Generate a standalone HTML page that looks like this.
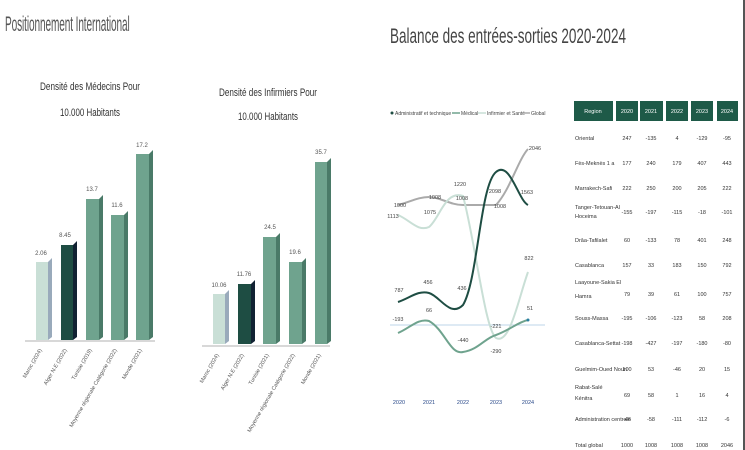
<!DOCTYPE html>
<html><head><meta charset="utf-8"><style>
html,body{margin:0;padding:0;background:#fff;width:745px;height:450px;overflow:hidden}
svg{display:block;font-family:"Liberation Sans",sans-serif}
</style></head><body>
<svg width="745" height="450" viewBox="0 0 745 450">
<rect x="743" y="0" width="2" height="450" fill="#555"/>
<text x="5" y="31" font-size="21" fill="#555" transform="translate(5 0) scale(0.48 1) translate(-5 0)" textLength="260">Positionnement International</text>
<text x="390" y="43" font-size="21" fill="#444" textLength="236" lengthAdjust="spacingAndGlyphs">Balance des entrées-sorties 2020-2024</text>

<!-- chart 1 -->
<text x="90" y="90" font-size="11" fill="#333" text-anchor="middle" textLength="100" lengthAdjust="spacingAndGlyphs">Densité des Médecins Pour</text>
<text x="90" y="116" font-size="11" fill="#333" text-anchor="middle" textLength="60" lengthAdjust="spacingAndGlyphs">10.000 Habitants</text>
<line x1="25" y1="341" x2="155" y2="341" stroke="#ccc" stroke-width="1.5"/>
<g>
<rect x="36" y="262" width="12" height="78" fill="#c9dfd6"/><polygon points="48,262 52,258 52,337 48,340" fill="#9ab"/>
<rect x="61" y="245" width="12" height="95" fill="#1e4d43"/><polygon points="73,245 77,241 77,337 73,340" fill="#123"/>
<rect x="86" y="199" width="13" height="141" fill="#6fa38e"/><polygon points="99,199 103,195 103,337 99,340" fill="#4a7a68"/>
<rect x="111" y="215" width="13" height="125" fill="#6fa38e"/><polygon points="124,215 128,211 128,337 124,340" fill="#4a7a68"/>
<rect x="136" y="154" width="13" height="186" fill="#6fa38e"/><polygon points="149,154 153,150 153,337 149,340" fill="#4a7a68"/>
</g>
<g font-size="6" fill="#555" text-anchor="middle">
<text x="41" y="255">2.06</text><text x="65" y="237">8.45</text><text x="92" y="191">13.7</text><text x="117" y="207">11.6</text><text x="142" y="147">17.2</text>
</g>
<g font-size="5.5" fill="#555" text-anchor="end">
<text transform="translate(42 350) rotate(-60)">Maroc (2024)</text>
<text transform="translate(67 350) rotate(-60)">Alger N.E (2022)</text>
<text transform="translate(92 350) rotate(-60)">Tunisie (2019)</text>
<text transform="translate(117 350) rotate(-60)">Moyenne régionale Catégorie (2022)</text>
<text transform="translate(142 350) rotate(-60)">Monde (2021)</text>
</g>

<!-- chart 2 -->
<text x="268" y="96" font-size="11" fill="#333" text-anchor="middle" textLength="98" lengthAdjust="spacingAndGlyphs">Densité des Infirmiers Pour</text>
<text x="268" y="120" font-size="11" fill="#333" text-anchor="middle" textLength="60" lengthAdjust="spacingAndGlyphs">10.000 Habitants</text>
<line x1="202" y1="346" x2="330" y2="346" stroke="#ccc" stroke-width="1.5"/>
<g>
<rect x="213" y="294" width="12" height="50" fill="#c9dfd6"/><polygon points="225,294 229,290 229,341 225,344" fill="#9ab"/>
<rect x="238" y="284" width="13" height="60" fill="#1e4d43"/><polygon points="251,284 255,280 255,341 251,344" fill="#123"/>
<rect x="263" y="237" width="13" height="107" fill="#6fa38e"/><polygon points="276,237 280,233 280,341 276,344" fill="#4a7a68"/>
<rect x="289" y="262" width="13" height="82" fill="#6fa38e"/><polygon points="302,262 306,258 306,341 302,344" fill="#4a7a68"/>
<rect x="315" y="162" width="12" height="182" fill="#6fa38e"/><polygon points="327,162 331,158 331,341 327,344" fill="#4a7a68"/>
</g>
<g font-size="6" fill="#555" text-anchor="middle">
<text x="219" y="287">10.06</text><text x="244" y="276">11.76</text><text x="270" y="229">24.5</text><text x="295" y="254">19.6</text><text x="321" y="154">35.7</text>
</g>
<g font-size="5.5" fill="#555" text-anchor="end">
<text transform="translate(219 355) rotate(-60)">Maroc (2024)</text>
<text transform="translate(244 355) rotate(-60)">Alger N.E (2022)</text>
<text transform="translate(269 355) rotate(-60)">Tunisie (2021)</text>
<text transform="translate(295 355) rotate(-60)">Moyenne régionale Catégorie (2022)</text>
<text transform="translate(321 355) rotate(-60)">Monde (2021)</text>
</g>

<!-- line chart -->
<g font-size="5" fill="#444">
<circle cx="392" cy="113" r="1.5" fill="#1e4d43"/><text x="395" y="115">Administratif et technique</text>
<line x1="452" y1="113" x2="460" y2="113" stroke="#6fa38e" stroke-width="1.5"/><text x="461" y="115">Médical</text>
<line x1="478" y1="113" x2="486" y2="113" stroke="#c9dfd6" stroke-width="1.5"/><text x="487" y="115">Infirmier et Santé</text>
<line x1="522" y1="113" x2="530" y2="113" stroke="#aaa" stroke-width="1.5"/><text x="531" y="115">Global</text>
</g>
<line x1="390" y1="325" x2="545" y2="325" stroke="#bcd4e8" stroke-width="1"/>
<path d="M398,205 C410,202 418,197 429,197 C440,197 450,205 463,205 L496,205 C510,190 518,160 528,149" fill="none" stroke="#aaa" stroke-width="2"/>
<path d="M398,215 C410,220 418,232 429,227 C440,218 445,190 463,196 C475,240 485,330 496,338 C510,345 518,300 528,272" fill="none" stroke="#c9dfd6" stroke-width="2"/>
<path d="M398,302 C410,298 418,290 429,293 C440,296 450,318 463,305 C478,280 480,185 496,172 C510,160 518,200 528,205" fill="none" stroke="#1e4d43" stroke-width="2"/>
<path d="M398,333 C410,328 418,318 429,321 C445,330 450,355 463,352 C478,350 485,338 496,335 C510,330 518,322 528,320" fill="none" stroke="#6fa38e" stroke-width="2"/>
<circle cx="528" cy="320" r="1.5" fill="#2a7fa0"/>
<g font-size="5.5" fill="#444" text-anchor="middle">
<text x="400" y="207">1000</text><text x="435" y="199">1008</text><text x="462" y="200">1008</text><text x="460" y="186">1220</text><text x="500" y="208">1008</text><text x="535" y="150">2046</text>
<text x="393" y="218">1113</text><text x="430" y="214">1075</text>
<text x="399" y="292">787</text><text x="428" y="284">456</text><text x="462" y="290">436</text><text x="495" y="193">2098</text><text x="527" y="194">1563</text>
<text x="398" y="321">-193</text><text x="429" y="312">66</text><text x="463" y="342">-440</text><text x="496" y="328">-221</text><text x="496" y="353">-290</text><text x="530" y="310">51</text><text x="529" y="260">822</text>
</g>
<g font-size="5.5" fill="#2a4a8a" text-anchor="middle">
<text x="399" y="404">2020</text><text x="429" y="404">2021</text><text x="463" y="404">2022</text><text x="496" y="404">2023</text><text x="528" y="404">2024</text>
</g>

<!-- table -->
<g fill="#1e5a48">
<rect x="574" y="101" width="39" height="20"/><rect x="616" y="101" width="22" height="20"/><rect x="640" y="101" width="23" height="20"/><rect x="666" y="101" width="22" height="20"/><rect x="691" y="101" width="22" height="20"/><rect x="717" y="101" width="21" height="20"/>
</g>
<g font-size="5.5" fill="#fff" text-anchor="middle">
<text x="593" y="113">Region</text><text x="627" y="113">2020</text><text x="651" y="113">2021</text><text x="677" y="113">2022</text><text x="702" y="113">2023</text><text x="727" y="113">2024</text>
</g>
<g font-size="5.5" fill="#333">
<text x="575" y="140">Oriental</text>
<text x="575" y="165">Fès-Meknès 1 a</text>
<text x="575" y="190">Marrakech-Safi</text>
<text x="575" y="209">Tanger-Tetouan-Al</text><text x="575" y="218">Hoceima</text>
<text x="575" y="242">Drâa-Tafilalet</text>
<text x="575" y="267">Casablanca</text>
<text x="575" y="284">Laayoune-Sakia El</text><text x="575" y="298">Hamra</text>
<text x="575" y="320">Souss-Massa</text>
<text x="575" y="345">Casablanca-Settat</text>
<text x="575" y="371">Guelmim-Oued Noun</text>
<text x="575" y="389">Rabat-Salé</text><text x="575" y="400">Kénitra</text>
<text x="575" y="421">Administration centrale</text>
<text x="575" y="447">Total global</text>
</g>
<g font-size="5.5" fill="#333" text-anchor="middle">
<text x="627" y="140">247</text><text x="651" y="140">-135</text><text x="677" y="140">4</text><text x="702" y="140">-129</text><text x="727" y="140">-95</text>
<text x="627" y="165">177</text><text x="651" y="165">240</text><text x="677" y="165">179</text><text x="702" y="165">407</text><text x="727" y="165">443</text>
<text x="627" y="190">222</text><text x="651" y="190">250</text><text x="677" y="190">200</text><text x="702" y="190">205</text><text x="727" y="190">222</text>
<text x="627" y="214">-155</text><text x="651" y="214">-197</text><text x="677" y="214">-115</text><text x="702" y="214">-18</text><text x="727" y="214">-101</text>
<text x="627" y="242">60</text><text x="651" y="242">-133</text><text x="677" y="242">78</text><text x="702" y="242">401</text><text x="727" y="242">248</text>
<text x="627" y="267">157</text><text x="651" y="267">33</text><text x="677" y="267">183</text><text x="702" y="267">150</text><text x="727" y="267">792</text>
<text x="627" y="296">79</text><text x="651" y="296">39</text><text x="677" y="296">61</text><text x="702" y="296">100</text><text x="727" y="296">757</text>
<text x="627" y="320">-195</text><text x="651" y="320">-106</text><text x="677" y="320">-123</text><text x="702" y="320">58</text><text x="727" y="320">208</text>
<text x="627" y="345">-198</text><text x="651" y="345">-427</text><text x="677" y="345">-197</text><text x="702" y="345">-180</text><text x="727" y="345">-80</text>
<text x="627" y="371">100</text><text x="651" y="371">53</text><text x="677" y="371">-46</text><text x="702" y="371">20</text><text x="727" y="371">15</text>
<text x="627" y="397">69</text><text x="651" y="397">58</text><text x="677" y="397">1</text><text x="702" y="397">16</text><text x="727" y="397">4</text>
<text x="627" y="421">-46</text><text x="651" y="421">-58</text><text x="677" y="421">-111</text><text x="702" y="421">-112</text><text x="727" y="421">-6</text>
<text x="627" y="447">1000</text><text x="651" y="447">1008</text><text x="677" y="447">1008</text><text x="702" y="447">1008</text><text x="727" y="447">2046</text>
</g>
</svg>
</body></html>
